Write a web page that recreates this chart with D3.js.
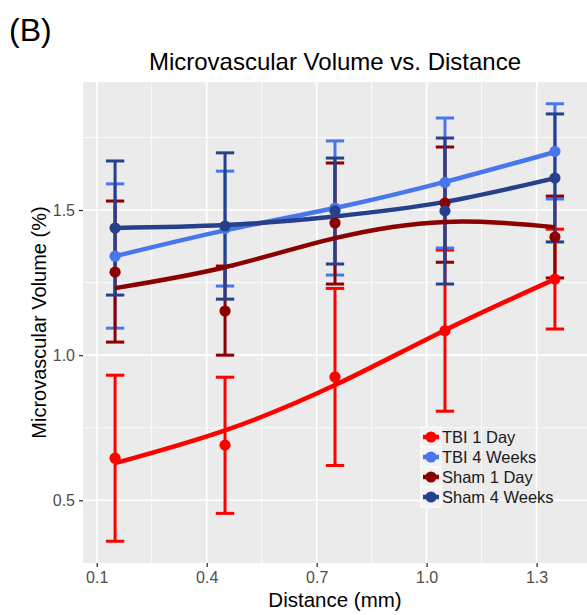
<!DOCTYPE html>
<html>
<head>
<meta charset="utf-8">
<script src="https://cdn.jsdelivr.net/npm/d3@7/dist/d3.min.js"></script>
<style>
  html, body { margin: 0; padding: 0; background: #fff; }
  svg { display: block; font-family: "Liberation Sans", Arial, Helvetica, sans-serif; }
</style>
</head>
<body>
<svg id="chart" width="587" height="615"></svg>
<script>
// ---------------- data ----------------
const distances = [0.15, 0.45, 0.75, 1.05, 1.35];
const groups = ["TBI 1 Day", "TBI 4 Weeks", "Sham 1 Day", "Sham 4 Weeks"];

const tbi1Mean = [0.645, 0.690, 0.925, 1.084, 1.262];
const tbi1Lo   = [0.359, 0.455, 0.620, 0.807, 1.090];
const tbi1Hi   = [0.931, 0.924, 1.230, 1.362, 1.434];
const tbi1Fit  = [0.628, 0.741, 0.897, 1.086, 1.262];

const tbi4Mean = [1.341, 1.436, 1.507, 1.595, 1.702];
const tbi4Lo   = [1.093, 1.238, 1.276, 1.369, 1.538];
const tbi4Hi   = [1.590, 1.634, 1.738, 1.817, 1.866];
const tbi4Fit  = [1.341, 1.430, 1.507, 1.597, 1.700];

const sham1Mean = [1.286, 1.152, 1.455, 1.524, 1.407];
const sham1Lo   = [1.045, 1.000, 1.245, 1.320, 1.266];
const sham1Hi   = [1.531, 1.307, 1.662, 1.717, 1.548];
const sham1Fit  = [1.231, 1.303, 1.403, 1.459, 1.441];

const sham4Mean = [1.438, 1.445, 1.497, 1.497, 1.610];
const sham4Lo   = [1.207, 1.193, 1.314, 1.245, 1.390];
const sham4Hi   = [1.669, 1.697, 1.679, 1.748, 1.831];
const sham4Fit  = [1.438, 1.448, 1.478, 1.528, 1.610];

const xTicks = [0.1, 0.4, 0.7, 1.0, 1.3];
const xMinor = [0.25, 0.55, 0.85, 1.15];
const yTicks = [0.5, 1.0, 1.5];
const yMinor = [0.75, 1.25, 1.75];

const panelLabel = "(B)";
const titleText = "Microvascular Volume vs. Distance";
const xTitle = "Distance (mm)";
const yTitle = "Microvascular Volume (%)";

// ---------------- styles ----------------
const colors = ["#FF0000", "#4876EC", "#8B0000", "#27408B"];
const series = [
  { mean: tbi1Mean, lo: tbi1Lo, hi: tbi1Hi, fit: tbi1Fit },
  { mean: tbi4Mean, lo: tbi4Lo, hi: tbi4Hi, fit: tbi4Fit },
  { mean: sham1Mean, lo: sham1Lo, hi: sham1Hi, fit: sham1Fit },
  { mean: sham4Mean, lo: sham4Lo, hi: sham4Hi, fit: sham4Fit }
].map((s, i) => ({ ...s, name: groups[i], color: colors[i] }));

const svg = d3.select("#chart");
const P = { left: 83, right: 587, top: 82, bottom: 563 };

const x = d3.scaleLinear().domain([0.0625, 1.4375]).range([P.left, P.right]);
const y = d3.scaleLinear().domain([0.284, 1.941]).range([P.bottom, P.top]);

// panel background
svg.append("rect")
  .attr("x", P.left).attr("y", P.top)
  .attr("width", P.right - P.left).attr("height", P.bottom - P.top)
  .attr("fill", "#EBEBEB");

const grid = svg.append("g");
grid.selectAll(".xminor").data(xMinor).join("line")
  .attr("x1", d => x(d)).attr("x2", d => x(d))
  .attr("y1", P.top).attr("y2", P.bottom)
  .attr("stroke", "#fff").attr("stroke-width", 0.8);
grid.selectAll(".yminor").data(yMinor).join("line")
  .attr("y1", d => y(d)).attr("y2", d => y(d))
  .attr("x1", P.left).attr("x2", P.right)
  .attr("stroke", "#fff").attr("stroke-width", 0.8);
grid.selectAll(".xmajor").data(xTicks).join("line")
  .attr("x1", d => x(d)).attr("x2", d => x(d))
  .attr("y1", P.top).attr("y2", P.bottom)
  .attr("stroke", "#fff").attr("stroke-width", 1.6);
grid.selectAll(".ymajor").data(yTicks).join("line")
  .attr("y1", d => y(d)).attr("y2", d => y(d))
  .attr("x1", P.left).attr("x2", P.right)
  .attr("stroke", "#fff").attr("stroke-width", 1.6);

// axes
const xAxis = svg.append("g")
  .attr("transform", `translate(0,${P.bottom})`)
  .call(d3.axisBottom(x).tickValues(xTicks).tickFormat(d3.format(".1f")).tickSize(4).tickPadding(5));
const yAxis = svg.append("g")
  .attr("transform", `translate(${P.left},0)`)
  .call(d3.axisLeft(y).tickValues(yTicks).tickFormat(d3.format(".1f")).tickSize(4).tickPadding(4));
[xAxis, yAxis].forEach(a => {
  a.select(".domain").remove();
  a.selectAll(".tick line").attr("stroke", "#333").attr("stroke-width", 1.3);
  a.selectAll(".tick text").attr("fill", "#4D4D4D")
    .style("font-size", "16px").style("font-family", "\"Liberation Sans\", Arial, sans-serif");
});

// error bars
const capHalf = (x(0.025) - x(0));
const eb = svg.append("g");
series.forEach(s => {
  const g = eb.append("g").attr("stroke", s.color).attr("stroke-width", 3).attr("fill", "none");
  const d = distances.map((dx, i) => ({ dx, lo: s.lo[i], hi: s.hi[i] }));
  g.selectAll(".v").data(d).join("line")
    .attr("x1", e => x(e.dx)).attr("x2", e => x(e.dx))
    .attr("y1", e => y(e.lo)).attr("y2", e => y(e.hi));
  g.selectAll(".ch").data(d).join("line")
    .attr("x1", e => x(e.dx) - capHalf).attr("x2", e => x(e.dx) + capHalf)
    .attr("y1", e => y(e.hi)).attr("y2", e => y(e.hi));
  g.selectAll(".cl").data(d).join("line")
    .attr("x1", e => x(e.dx) - capHalf).attr("x2", e => x(e.dx) + capHalf)
    .attr("y1", e => y(e.lo)).attr("y2", e => y(e.lo));
});

// smooth fits
const line = d3.line().x((d, i) => x(distances[i])).y(d => y(d)).curve(d3.curveNatural);
const lines = svg.append("g");
series.forEach(s => {
  lines.append("path").attr("d", line(s.fit))
    .attr("fill", "none").attr("stroke", s.color).attr("stroke-width", 4.5);
});

// points
const pts = svg.append("g");
series.forEach(s => {
  pts.append("g").selectAll("circle").data(s.mean).join("circle")
    .attr("cx", (d, i) => x(distances[i])).attr("cy", d => y(d))
    .attr("r", 5.6).attr("fill", s.color);
});

// legend
const legend = svg.append("g").attr("transform", "translate(421,427)");
series.forEach((s, i) => {
  const row = legend.append("g").attr("transform", `translate(0,${i * 20})`);
  row.append("rect").attr("x", 0).attr("y", 0).attr("width", 20).attr("height", 20)
    .attr("fill", "#F2F2F2").attr("stroke", "#fff").attr("stroke-width", 1);
  row.append("line").attr("x1", 2).attr("x2", 18).attr("y1", 10).attr("y2", 10)
    .attr("stroke", s.color).attr("stroke-width", 4.5);
  row.append("circle").attr("cx", 10).attr("cy", 10).attr("r", 5.6).attr("fill", s.color);
  row.append("text").attr("x", 21).attr("y", 10).attr("dy", "0.36em")
    .attr("fill", "#1a1a1a").style("font-size", "16.5px").text(s.name);
});

// texts
svg.append("text").attr("x", 9).attr("y", 41)
  .style("font-size", "32px").attr("fill", "#000").text(panelLabel);
svg.append("text").attr("x", 335).attr("y", 70).attr("text-anchor", "middle")
  .style("font-size", "24px").attr("fill", "#000").text(titleText);
svg.append("text").attr("x", 335).attr("y", 607).attr("text-anchor", "middle")
  .style("font-size", "20.5px").attr("fill", "#000").text(xTitle);
svg.append("text").attr("transform", `translate(46,${(P.top + P.bottom) / 2}) rotate(-90)`)
  .attr("text-anchor", "middle")
  .style("font-size", "20px").attr("fill", "#000").text(yTitle);
</script>
</body>
</html>
